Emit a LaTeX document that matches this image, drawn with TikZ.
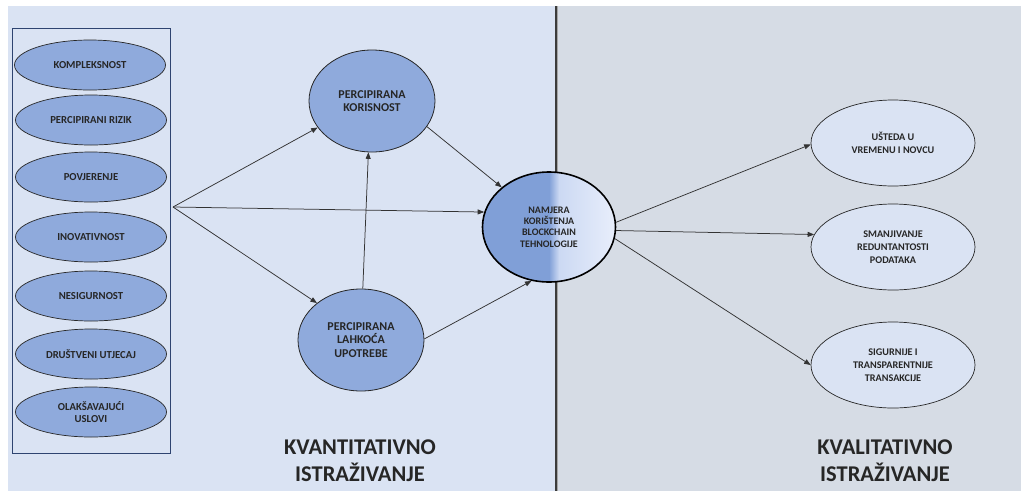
\documentclass[tikz,border=0pt]{standalone}
\usepackage{fontspec}
\setmainfont{Carlito}[BoldFont={Carlito Bold}]
\usetikzlibrary{shapes.geometric,arrows.meta}

\definecolor{panelL}{HTML}{DAE3F3}
\definecolor{panelR}{HTML}{D6DCE5}
\definecolor{ovalblue}{HTML}{8FAADC}
\definecolor{ovallight}{HTML}{DAE3F3}
\definecolor{namdark}{HTML}{809FD7}
\definecolor{namlightA}{HTML}{CCD9F3}
\definecolor{namlightB}{HTML}{E8EEFB}
\definecolor{boxline}{HTML}{2E4470}
\definecolor{arrowgray}{HTML}{333333}
\definecolor{divgray}{HTML}{3C3C3C}

\tikzset{
  factor/.style={ellipse, draw=black!85, line width=0.7pt, fill=ovalblue,
    minimum width=151pt, minimum height=50pt, inner sep=0pt, align=center,
    font=\bfseries\fontsize{10.7}{12}\selectfont, text=black!85},
  construct/.style={ellipse, draw=black!85, line width=0.8pt, fill=ovalblue,
    minimum width=126pt, minimum height=102pt, inner sep=0pt, align=center,
    font=\bfseries\fontsize{12}{13.2}\selectfont, text=black!85},
  outcome/.style={ellipse, draw=black!85, line width=0.7pt, fill=ovallight,
    minimum width=164pt, minimum height=86pt, inner sep=0pt, align=center,
    font=\bfseries\fontsize{10.2}{12.7}\selectfont, text=black!85},
  link/.style={draw=arrowgray, line width=0.75pt, -{Triangle[length=6.5pt,width=5pt]}},
  heading/.style={align=center, font=\bfseries\fontsize{22.5}{27}\selectfont, text=black!85}
}

\begin{document}
\begin{tikzpicture}[x=1pt, y=-1pt]
  \useasboundingbox (0,0) rectangle (1021,491);
  \fill[white] (0,0) rectangle (1021,491);

  % two research panels
  \fill[panelL] (8,6) rectangle (556,491);
  \fill[panelR] (556,6) rectangle (1021,491);
  \coordinate (div) at (556,6);
  \draw[divgray, line width=1.6pt] (div) -- (556,491);
  \draw[black!35, line width=0.6pt] (557.6,6) -- (557.6,491);

  % frame around the external factors
  \draw[boxline, line width=0.8pt] (12,28) rectangle (170,453);

  % external factors
  \node[factor] (f1) at (90,65)  {KOMPLEKSNOST};
  \node[factor] (f2) at (91,120) {PERCIPIRANI RIZIK};
  \node[factor] (f3) at (91,177) {POVJERENJE};
  \node[factor] (f4) at (91,237) {INOVATIVNOST};
  \node[factor] (f5) at (91,296) {NESIGURNOST};
  \node[factor] (f6) at (91,354) {DRUŠTVENI UTJECAJ};
  \node[factor] (f7) at (91,412) {OLAKŠAVAJUĆI\\USLOVI};
  \coordinate (src) at (173,207);

  % TAM constructs
  \node[construct] (kor) at (372,101) {PERCIPIRANA\\KORISNOST};
  \node[construct] (lah) at (361,340) {PERCIPIRANA\\LAHKOĆA\\UPOTREBE};
  \node[ellipse, draw=black, line width=1.6pt, minimum width=133pt, minimum height=110pt,
        inner sep=0pt, align=center, font=\bfseries\fontsize{10}{11.4}\selectfont, text=black!85,
        path picture={
          \fill[namdark] (path picture bounding box.north west) rectangle ([xshift=-7pt]path picture bounding box.south west -| div);
          \shade[left color=namdark, right color=namlightA] ([xshift=-7pt]path picture bounding box.north west -| div) rectangle ([xshift=3pt]path picture bounding box.south west -| div);
          \shade[left color=namlightA, right color=namlightB] ([xshift=3pt]path picture bounding box.north west -| div) rectangle (path picture bounding box.south east);
        }] (nam) at (549,227) {NAMJERA\\KORIŠTENJA\\BLOCKCHAIN\\TEHNOLOGIJE};

  % outcomes
  \node[outcome] (ust) at (893,143) {UŠTEDA U\\VREMENU I NOVCU};
  \node[outcome] (sma) at (893,247) {SMANJIVANJE\\REDUNTANTOSTI\\PODATAKA};
  \node[outcome] (sig) at (893,365) {SIGURNIJE I\\TRANSPARENTNIJE\\TRANSAKCIJE};

  % relations
  \draw[link] (src) -- (kor.206);
  \draw[link] (src) -- (nam.167);
  \draw[link] (src) -- (lah.140);
  \draw[link] (kor.335) -- (nam.140);
  \draw[link] (lah.88) -- (kor.266);
  \draw[link] (lah.1) -- (nam.252);
  \draw[link] (nam.4) -- (ust.181);
  \draw[link] (nam.357) -- (sma.171);
  \draw[link] (nam.350) -- (sig.180);

  % panel captions
  \node[heading] (qt) at (360,461) {KVANTITATIVNO\\ISTRAŽIVANJE};
  \node[heading] (ql) at (885,461) {KVALITATIVNO\\ISTRAŽIVANJE};
\end{tikzpicture}
\end{document}
